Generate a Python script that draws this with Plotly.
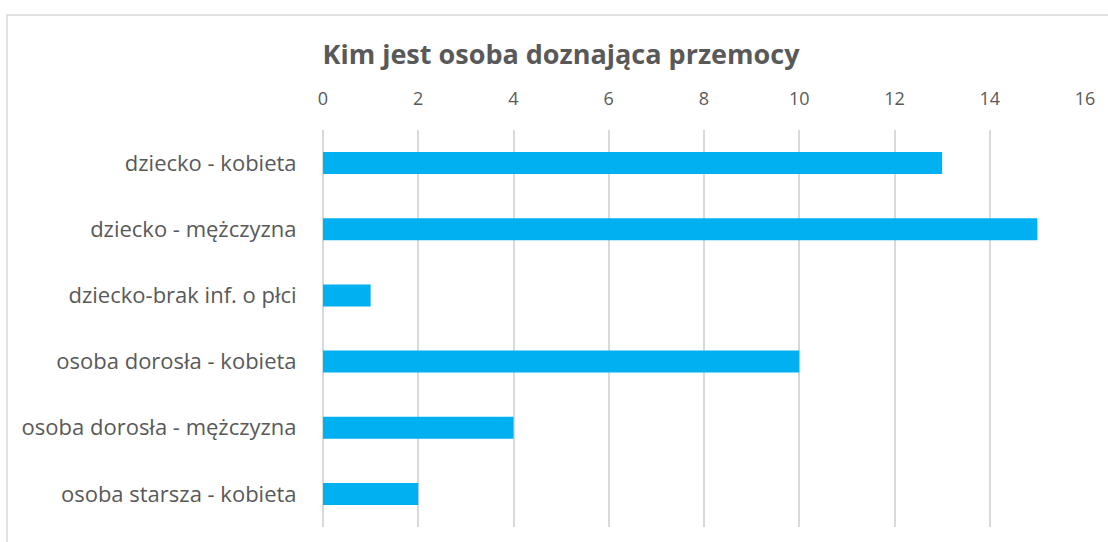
import plotly.graph_objects as go

categories = ["dziecko - kobieta", "dziecko - mężczyzna", "dziecko-brak inf. o płci",
              "osoba dorosła - kobieta", "osoba dorosła - mężczyzna", "osoba starsza - kobieta"]
values = [13, 15, 1, 10, 4, 2]
tick_vals = [0, 2, 4, 6, 8, 10, 12, 14, 16]

W, H = 1108, 542
L, R, T, B = 323, 23, 130, 15
pw, ph = W - L - R, H - T - B

fig = go.Figure(go.Bar(
    x=values, y=categories, orientation="h",
    marker=dict(color="#00b0f0", line=dict(width=0)),
    hoverinfo="x+y",
))

FONT = "Open Sans, Lato, sans-serif"
fig.update_layout(
    width=W, height=H,
    margin=dict(l=L, r=R, t=T, b=B),
    paper_bgcolor="white", plot_bgcolor="white",
    bargap=0.667,
    showlegend=False,
    font=dict(family=FONT, color="#595959", size=22),
    title=dict(text="<b>Kim jest osoba doznająca przemocy</b>",
               x=561 / W, xanchor="center", y=1 - 55 / H, yanchor="middle",
               font=dict(size=27, color="#595959", family=FONT)),
    xaxis=dict(side="top", range=[0, 16], tickvals=tick_vals,
               showgrid=True, gridcolor="#d9d9d9", gridwidth=1.5,
               zeroline=True, zerolinecolor="#d9d9d9", zerolinewidth=1.5,
               showline=False, ticks="outside", ticklen=17, tickcolor="rgba(0,0,0,0)",
               tickfont=dict(size=18, color="#595959"), fixedrange=True),
    yaxis=dict(autorange="reversed", showgrid=False, showline=False,
               ticks="outside", ticklen=21, tickcolor="rgba(0,0,0,0)",
               tickfont=dict(size=22, color="#595959"), fixedrange=True),
    shapes=[dict(type="rect", xref="paper", yref="paper",
                 x0=(7 - L) / pw, x1=1.2, y0=-0.2, y1=(H - B - 15) / ph,
                 line=dict(color="#d9d9d9", width=1.5), fillcolor="rgba(0,0,0,0)", layer="below")],
)

fig.write_html("out.html", config={"displayModeBar": False},
               post_script="document.body.style.margin='0';")
